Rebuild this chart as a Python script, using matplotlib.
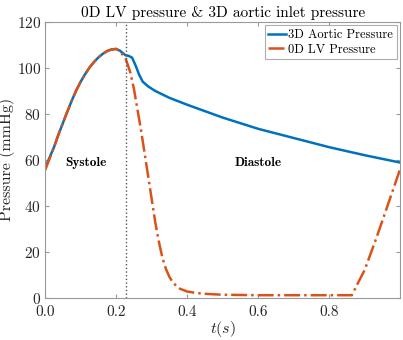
import matplotlib
matplotlib.use("Agg")
import matplotlib.pyplot as plt

plt.rcParams['font.family'] = 'serif'
plt.rcParams['font.serif'] = ['cmr10']
plt.rcParams['mathtext.fontset'] = 'cm'
plt.rcParams['axes.formatter.use_mathtext'] = True

# 3D aortic pressure
t_ao = [0.0, 0.0125, 0.025, 0.0375, 0.05, 0.0625, 0.075, 0.0875, 0.1, 0.1125,
        0.125, 0.1375, 0.15, 0.1625, 0.175, 0.1875, 0.2, 0.21, 0.227,
        0.235, 0.245, 0.255, 0.265, 0.275, 0.29, 0.31, 0.35, 0.4, 0.5,
        0.6, 0.7, 0.8, 0.9, 1.0]
p_ao = [56.5, 61, 65.5, 71, 76, 81, 85.8, 90.2, 94, 97.3,
        100.2, 102.6, 104.6, 106.2, 107.4, 108.1, 108.3, 107.6, 105.5,
        105.3, 104.5, 101, 97, 94, 92, 90, 87, 84, 78.4,
        73.5, 69.5, 65.5, 62, 58.8]

# 0D LV pressure
t_lv = [0.0, 0.0125, 0.025, 0.0375, 0.05, 0.0625, 0.075, 0.0875, 0.1, 0.1125,
        0.125, 0.1375, 0.15, 0.1625, 0.175, 0.1875, 0.2, 0.21, 0.227,
        0.24, 0.25, 0.26, 0.27, 0.28, 0.29, 0.30, 0.31, 0.32, 0.33, 0.34,
        0.35, 0.36, 0.37, 0.38, 0.4, 0.425, 0.45, 0.5, 0.6, 0.7, 0.8, 0.864,
        0.88, 0.9, 0.934, 0.96, 1.0]
p_lv = [55.5, 60.5, 65.5, 71, 76, 81, 85.8, 90.2, 94, 97.3,
        100.2, 102.6, 104.6, 106.2, 107.4, 108.1, 108.3, 107.4, 104,
        98, 91, 82, 73, 63, 53, 43, 33, 24.5, 17.5, 12.5,
        9, 6.5, 5, 3.8, 2.6, 2.0, 1.6, 1.2, 1.0, 1.0, 1.0, 1.0,
        6, 12, 26.4, 38, 56]

t_valve = 0.227

fig, ax = plt.subplots(figsize=(4.03, 3.40), dpi=100)
fig.subplots_adjust(left=0.112, right=0.993, top=0.935, bottom=0.125)

ax.plot(t_ao, p_ao, color='#0072BD', lw=1.8, label='3D Aortic Pressure')
ax.plot(t_lv, p_lv, color='#D95319', lw=1.8, ls='-.', label='0D LV Pressure')
ax.axvline(t_valve, color='#555555', ls=':', lw=1)

ax.text(0.115, 58.5, 'Systole', ha='center', va='center', fontsize=9.5,
        family='cmb10')
ax.text(0.6, 58.5, 'Diastole', ha='center', va='center', fontsize=9.5,
        family='cmb10')

ax.set_xlim(0, 1.0)
ax.set_ylim(0, 120)
ax.set_xticks([0.0, 0.2, 0.4, 0.6, 0.8])
ax.set_xticklabels(['0.0', '0.2', '0.4', '0.6', '0.8'])
ax.set_yticks([0, 20, 40, 60, 80, 100, 120])
ax.tick_params(direction='in', top=True, right=True, labelsize=11,
               colors='#999999', labelcolor='#262626', length=3, pad=3)
ax.tick_params(axis='x', pad=5.5)
for s in ax.spines.values():
    s.set_color('#999999')

ax.set_title('0D LV pressure & 3D aortic inlet pressure', fontsize=11,
             color='#000000', pad=4)
ax.set_xlabel('$t(s)$', fontsize=11.5, color='#262626', labelpad=0)
ax.set_ylabel('Pressure (mmHg)', fontsize=11.5, color='#262626', labelpad=1)

leg = ax.legend(loc='upper right', fontsize=9, frameon=True, fancybox=False,
                edgecolor='#999999', handlelength=1.4, handletextpad=0.2,
                borderaxespad=0.25, borderpad=0.3, labelspacing=0.2)
leg.get_frame().set_linewidth(0.8)

fig.savefig('out.png', dpi=100)
